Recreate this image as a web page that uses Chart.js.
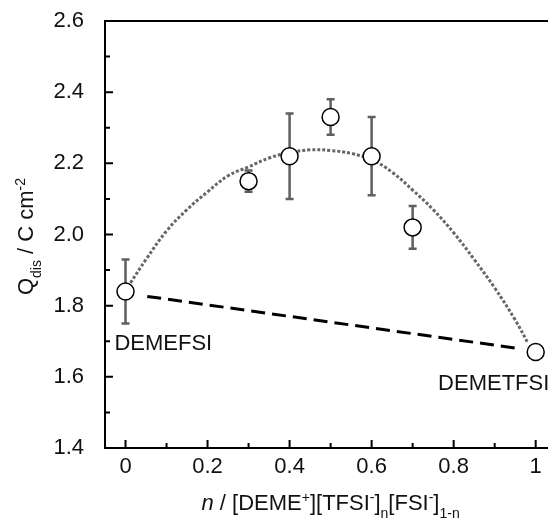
<!DOCTYPE html>
<html>
<head>
<meta charset="utf-8">
<script src="https://cdn.jsdelivr.net/npm/chart.js@4.4.0/dist/chart.umd.min.js"></script>
<style>
body { margin: 0; background: #fff; overflow: hidden; }
</style>
</head>
<body>
<canvas id="chart" width="548" height="519"></canvas>
<script>
// measured points with error bars
var nValues = [0, 0.3, 0.4, 0.5, 0.6, 0.7, 1.0];
var qValues = [1.84, 2.15, 2.22, 2.33, 2.22, 2.02, 1.67];
var qErrors = [0.09, 0.03, 0.12, 0.05, 0.11, 0.06, 0];

// dotted fit curve
var fitX = [0.012, 0.05, 0.1, 0.15, 0.2, 0.25, 0.3, 0.35, 0.4, 0.45, 0.5, 0.55, 0.6, 0.65, 0.7, 0.75, 0.8, 0.85, 0.9, 0.95, 0.981];
var fitY = [1.864, 1.93, 2.01, 2.07, 2.12, 2.165, 2.19, 2.215, 2.23, 2.238, 2.236, 2.228, 2.21, 2.175, 2.125, 2.07, 2.005, 1.93, 1.85, 1.76, 1.695];

// dashed line between the two pure liquids
var lineX = [0.053, 0.962];
var lineY = [1.826, 1.679];

// axis ticks
var xTicks = [0, 0.2, 0.4, 0.6, 0.8, 1];
var xTickLabels = ['0', '0.2', '0.4', '0.6', '0.8', '1'];
var xMinor = [0.1, 0.3, 0.5, 0.7, 0.9];
var yTicks = [1.4, 1.6, 1.8, 2.0, 2.2, 2.4, 2.6];
var yMinor = [1.5, 1.7, 1.9, 2.1, 2.3, 2.5];

var FONT = '"Liberation Sans", Arial, sans-serif';
var BIG = 22, SMALL = 14;

// plot frame in the 548x519 picture
var AREA = { left: 105, top: 21, right: 548, bottom: 448 };

function toXY(xs, ys) {
    var out = [];
    for (var i = 0; i < xs.length; i++) out.push({x: xs[i], y: ys[i]});
    return out;
}

// draw text with sub/superscripts, centered on cx, baseline at by
function drawRich(ctx, parts, cx, by) {
    var total = 0;
    parts.forEach(function (p) {
        ctx.font = (p.it ? 'italic ' : '') + (p.s ? SMALL : BIG) + 'px ' + FONT;
        p.w = ctx.measureText(p.t).width;
        total += p.w;
    });
    var x = cx - total / 2;
    ctx.textAlign = 'left';
    ctx.textBaseline = 'alphabetic';
    parts.forEach(function (p) {
        ctx.font = (p.it ? 'italic ' : '') + (p.s ? SMALL : BIG) + 'px ' + FONT;
        var dy = p.s == 'sup' ? -8 : (p.s == 'sub' ? 8 : 0);
        ctx.fillText(p.t, x, by + dy);
        x += p.w;
    });
}

var decorations = {
    id: 'decorations',
    // pin the plot area so the axes line up with the picture
    afterLayout: function (chart) {
        var a = chart.chartArea, xs = chart.scales.x, ys = chart.scales.y;
        a.left = AREA.left; a.right = AREA.right; a.top = AREA.top; a.bottom = AREA.bottom;
        a.width = a.right - a.left; a.height = a.bottom - a.top;
        xs.left = a.left; xs.right = a.right; xs.width = a.width;
        xs.top = a.bottom; xs.bottom = chart.height; xs.height = chart.height - a.bottom;
        ys.left = 0; ys.right = a.left; ys.width = a.left;
        ys.top = a.top; ys.bottom = a.bottom; ys.height = a.height;
        xs.configure();
        ys.configure();
    },
    beforeDatasetsDraw: function (chart) {
        var ctx = chart.ctx, xs = chart.scales.x, ys = chart.scales.y;
        ctx.save();
        ctx.strokeStyle = '#5f5f5f';
        ctx.lineWidth = 2.5;
        for (var i = 0; i < nValues.length; i++) {
            if (!qErrors[i]) continue;
            var px = xs.getPixelForValue(nValues[i]);
            var top = ys.getPixelForValue(qValues[i] + qErrors[i]);
            var bot = ys.getPixelForValue(qValues[i] - qErrors[i]);
            ctx.beginPath();
            ctx.moveTo(px, top); ctx.lineTo(px, bot);
            ctx.moveTo(px - 4, top); ctx.lineTo(px + 4, top);
            ctx.moveTo(px - 4, bot); ctx.lineTo(px + 4, bot);
            ctx.stroke();
        }
        ctx.restore();
    },
    afterDraw: function (chart) {
        var ctx = chart.ctx, a = chart.chartArea;
        var xs = chart.scales.x, ys = chart.scales.y;
        ctx.save();
        // frame: left, bottom, top
        ctx.strokeStyle = '#000';
        ctx.lineWidth = 2;
        ctx.beginPath();
        ctx.moveTo(a.right, a.top); ctx.lineTo(a.left, a.top);
        ctx.lineTo(a.left, a.bottom); ctx.lineTo(a.right, a.bottom);
        ctx.stroke();
        // inward ticks
        ctx.beginPath();
        xTicks.forEach(function (v) { var p = xs.getPixelForValue(v); ctx.moveTo(p, a.bottom); ctx.lineTo(p, a.bottom - 8); });
        xMinor.forEach(function (v) { var p = xs.getPixelForValue(v); ctx.moveTo(p, a.bottom); ctx.lineTo(p, a.bottom - 5); });
        yTicks.forEach(function (v) { var p = ys.getPixelForValue(v); ctx.moveTo(a.left, p); ctx.lineTo(a.left + 8, p); });
        yMinor.forEach(function (v) { var p = ys.getPixelForValue(v); ctx.moveTo(a.left, p); ctx.lineTo(a.left + 5, p); });
        ctx.stroke();

        ctx.fillStyle = '#111';
        ctx.font = BIG + 'px ' + FONT;
        // x tick labels
        ctx.textAlign = 'center';
        ctx.textBaseline = 'alphabetic';
        xTicks.forEach(function (v, i) { ctx.fillText(xTickLabels[i], xs.getPixelForValue(v), a.bottom + 25); });

        // point labels
        ctx.textAlign = 'left';
        ctx.fillText('DEMEFSI', xs.getPixelForValue(-0.027), ys.getPixelForValue(1.676));
        ctx.fillText('DEMETFSI', xs.getPixelForValue(0.762), ys.getPixelForValue(1.563));

        // x title
        drawRich(ctx, [
            {t: 'n', it: true}, {t: ' / [DEME'}, {t: '+', s: 'sup'}, {t: '][TFSI'}, {t: '-', s: 'sup'},
            {t: ']'}, {t: 'n', s: 'sub'}, {t: '[FSI'}, {t: '-', s: 'sup'}, {t: ']'}, {t: '1-n', s: 'sub'}
        ], xs.getPixelForValue(0.5), 510);

        // y title
        ctx.translate(25, (a.top + a.bottom) / 2 + 2);
        ctx.rotate(-Math.PI / 2);
        drawRich(ctx, [
            {t: 'Q'}, {t: 'dis', s: 'sub'}, {t: ' / C cm'}, {t: '-2', s: 'sup'}
        ], 0, 7.5);
        ctx.restore();
    }
};

new Chart(document.getElementById('chart'), {
    type: 'scatter',
    data: {
        datasets: [{
            data: toXY(nValues, qValues),
            pointRadius: 8.5,
            pointHoverRadius: 8.5,
            pointBorderWidth: 1.5,
            pointBackgroundColor: '#fff',
            pointBorderColor: '#000',
            showLine: false
        }, {
            data: toXY(fitX, fitY),
            showLine: true,
            pointRadius: 0,
            borderColor: '#666',
            borderWidth: 3,
            borderDash: [3, 2],
            tension: 0.4
        }, {
            data: toXY(lineX, lineY),
            showLine: true,
            pointRadius: 0,
            borderColor: '#000',
            borderWidth: 3,
            borderDash: [14, 7]
        }]
    },
    options: {
        responsive: false,
        animation: false,
        layout: { padding: { top: 21, left: 0, right: 0, bottom: 0 } },
        plugins: { legend: { display: false }, tooltip: { enabled: false } },
        scales: {
            x: {
                type: 'linear',
                min: -0.05,
                max: 1.03,
                grid: { display: false },
                border: { display: false },
                ticks: { display: false },
                afterFit: function (s) { s.height = 71; }
            },
            y: {
                min: 1.4,
                max: 2.6,
                grid: { display: false },
                border: { display: false },
                afterBuildTicks: function (s) { s.ticks = yTicks.map(function (v) { return {value: v}; }); },
                afterFit: function (s) { s.width = 105; },
                ticks: {
                    padding: 13,
                    color: '#111',
                    font: { family: FONT, size: BIG },
                    callback: function (v) { return v.toFixed(1); }
                }
            }
        }
    },
    plugins: [decorations]
});
</script>
</body>
</html>
